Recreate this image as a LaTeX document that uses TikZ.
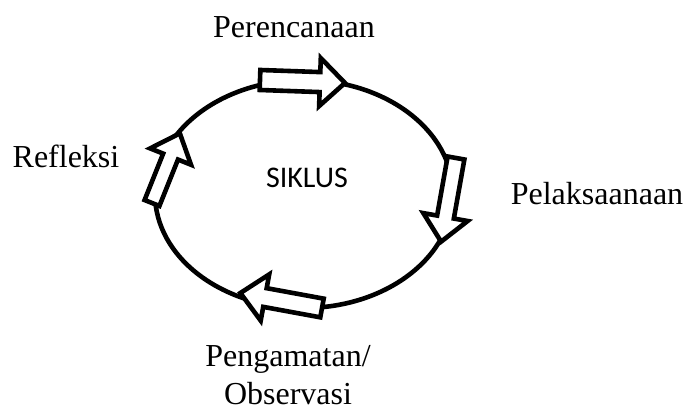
\documentclass[tikz,border=0pt]{standalone}
\usepackage{fontspec}
\setmainfont{Liberation Serif}
\newfontfamily\siklusfont{Carlito}
% panah blok: ekor, sudut, panjang, setengah lebar batang
\newcommand{\panah}[4]{%
	\draw[panahgaris,shift={#1},rotate=#2] (0,-#4)--(#3-25,-#4)--(#3-25,-#4-14)--(#3,0)
	--(#3-25,#4+14)--(#3-25,#4)--(0,#4)--cycle;}
\tikzset{
	siklusgaris/.style={line width=2.3pt},
	panahgaris/.style={line width=2.3pt,fill=white,line join=miter},
	label/.style={anchor=base,font=\fontsize{16}{19}\selectfont,align=center,inner sep=0pt}
}
\begin{document}
\begin{tikzpicture}[x=0.5pt,y=0.5pt]
	\useasboundingbox (0,0) rectangle (685,410);
	% Lingkaran siklus
	\draw[siklusgaris] (304,216) ellipse (149 and 114);
	\node[anchor=base,font=\siklusfont\fontsize{15}{17}\selectfont,inner sep=0pt] (siklus) at (307,222) {SIKLUS};
	% Empat panah
	\panah{(260,330)}{-2}{85}{10}
	\panah{(456,252)}{-100.1}{85}{8.5}
	\panah{(322,102)}{169.6}{83}{9.5}
	\panah{(152,207)}{68.2}{75}{8}
	% Label tahapan
	\node[label] (perencanaan) at (294,372) {Perencanaan};
	\node[label] (pelaksanaan) at (597,205) {Pelaksaanaan};
	\node[label] (pengamatan) at (288,5) {Pengamatan/\\Observasi};
	\node[label] (refleksi) at (66,242) {Refleksi};
\end{tikzpicture}
\end{document}
